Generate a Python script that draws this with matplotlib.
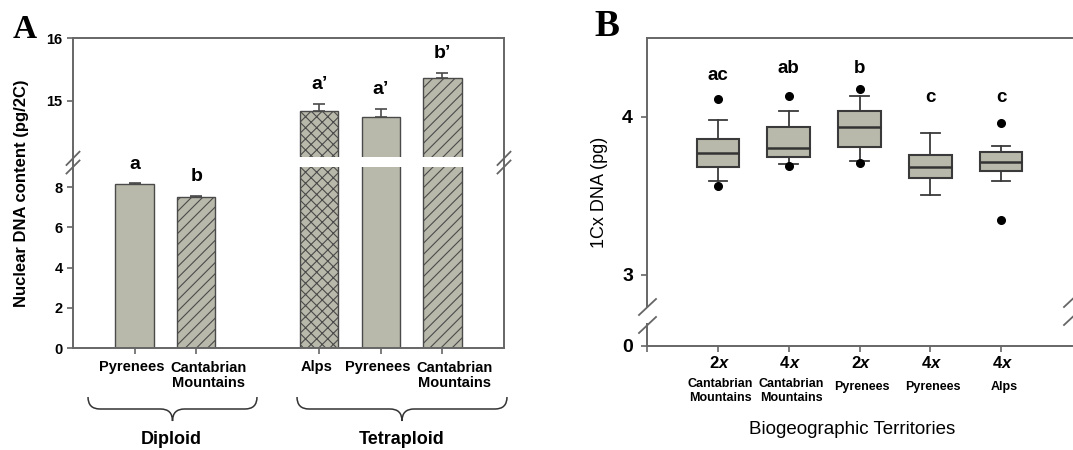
import numpy as np
import matplotlib
matplotlib.use('Agg')
import matplotlib.pyplot as plt
from matplotlib.path import Path
from matplotlib.patches import PathPatch, Rectangle
from matplotlib.lines import Line2D
import matplotlib.transforms as mtransforms

plt.rcParams['font.family'] = ['Liberation Sans', 'DejaVu Sans']
plt.rcParams['hatch.linewidth'] = 0.8

W, H = 1073, 450

# ---- panel A : nuclear DNA content (bars) ----
a_pos = [0, 1, 3, 4, 5]
a_labels = ['Pyrenees', 'Cantabrian\nMountains', 'Alps', 'Pyrenees', 'Cantabrian\nMountains']
a_means = [8.15, 7.53, 14.84, 14.74, 15.37]
a_err = [0.03, 0.02, 0.11, 0.13, 0.08]
a_hatch = ['', '///', 'xxx', '', '///']
a_letters = ['a', 'b', 'a\u2019', 'a\u2019', 'b\u2019']
a_yticks = [0, 2, 4, 6, 8, 15, 16]
groups = ['Diploid', 'Tetraploid']

# ---- panel B : 1Cx DNA (boxes) ----
b_pos = [1, 2, 3, 4, 5]
b_ploidy = ['2', '4', '2', '4', '4']
b_regions = ['Cantabrian\nMountains', 'Cantabrian\nMountains', 'Pyrenees', 'Pyrenees', 'Alps']
b_whislo = [3.596, 3.704, 3.723, 3.509, 3.596]
b_q1 = [3.680, 3.744, 3.810, 3.613, 3.658]
b_med = [3.769, 3.805, 3.934, 3.683, 3.715]
b_q3 = [3.860, 3.938, 4.040, 3.761, 3.778]
b_whishi = [3.983, 4.040, 4.135, 3.896, 3.816]
b_fliers = [[3.560, 4.114], [3.691, 4.131], [3.708, 4.175], [], [3.349, 3.964]]
b_letters = ['ac', 'ab', 'b', 'c', 'c']
b_letter_y = [4.262, 4.304, 4.304, 4.124, 4.124]
b_yticks = [0, 3, 4]

face = '#b9b9ab'
edge = '#4a4a4a'
spine_c = '#666666'


def broken(lo_top, hi_bot, k_lo, k_hi, d_lo, d_hi):
    # piecewise linear scale: 0..lo_top and hi_bot..max, squeezed gap between
    def fwd(y):
        y = np.asarray(y, dtype=float)
        mid = d_lo + (y - lo_top) * (d_hi - d_lo) / (hi_bot - lo_top)
        return np.where(y <= lo_top, y * k_lo,
                        np.where(y >= hi_bot, d_hi + (y - hi_bot) * k_hi, mid))

    def inv(d):
        d = np.asarray(d, dtype=float)
        mid = lo_top + (d - d_lo) * (hi_bot - lo_top) / (d_hi - d_lo)
        return np.where(d <= d_lo, d / k_lo,
                        np.where(d >= d_hi, hi_bot + (d - d_hi) / k_hi, mid))
    return fwd, inv


def fig_xy(x, y):
    return x / W, 1 - y / H


def slash(fig, x0, y0, x1, y1):
    (a, b), (c, d) = fig_xy(x0, y0), fig_xy(x1, y1)
    fig.add_artist(Line2D([a, c], [b, d], color=spine_c, lw=1.3))


def brace(fig, x0, x1, ytop, ymid, ybot):
    xc = (x0 + x1) / 2
    r = 12
    pts = [(x0, ytop), (x0, ymid), (x0 + r, ymid),
           (xc - r, ymid),
           (xc, ymid), (xc, ybot),
           (xc, ymid), (xc + r, ymid),
           (x1 - r, ymid),
           (x1, ymid), (x1, ytop)]
    codes = [Path.MOVETO, Path.CURVE3, Path.CURVE3,
             Path.LINETO,
             Path.CURVE3, Path.CURVE3,
             Path.CURVE3, Path.CURVE3,
             Path.LINETO,
             Path.CURVE3, Path.CURVE3]
    verts = [fig_xy(x, y) for x, y in pts]
    fig.add_artist(PathPatch(Path(verts, codes), fill=False, edgecolor='#333333',
                             lw=1.1, transform=fig.transFigure))


fig = plt.figure(figsize=(W / 100, H / 100), dpi=100)

# ================= A =================
ax = fig.add_axes([73 / W, 1 - 348 / H, (504 - 73) / W, (348 - 38) / H])
fa, ia = broken(9.0, 14.107, 20.09, 62.7, 180.8, 191.0)
ax.set_yscale('function', functions=(fa, ia))
ax.set_ylim(0, 16)
ax.set_xlim(-1, 6)

for x, m, h in zip(a_pos, a_means, a_hatch):
    ax.bar(x, m, width=0.62, color=face, edgecolor=edge, linewidth=1.0,
           hatch=h, zorder=1)
ax.errorbar(a_pos, a_means, yerr=[[0] * 5, a_err], fmt='none', ecolor=edge,
            elinewidth=1.2, capsize=4, capthick=1.2, zorder=2)
for x, m, e, t in zip(a_pos, a_means, a_err, a_letters):
    ax.annotate(t, (x, m + e), xytext=(0, 14), textcoords='offset points',
                ha='center', va='center', fontsize=14, fontweight='bold')

# white gap through the bars
ax.add_patch(Rectangle((0, 9.0), 1, 14.107 - 9.0,
                       transform=mtransforms.blended_transform_factory(ax.transAxes, ax.transData),
                       facecolor='white', edgecolor='none', zorder=2.2))

ax.set_yticks(a_yticks)
ax.set_yticklabels([str(v) for v in a_yticks], fontsize=10.5, fontweight='bold')
ax.set_xticks(a_pos)
ax.set_xticklabels([])
for x, lab in zip(a_pos, a_labels):
    dx = 9 if '\n' in lab else -2
    ax.annotate(lab, (x, 0), xycoords=('data', 'axes fraction'), xytext=(dx, -9),
                textcoords='offset points', ha='center', va='top', fontsize=10.5,
                fontweight='bold', linespacing=1.1)
ax.tick_params(axis='both', direction='out', length=4.5, width=1.2, color=spine_c, pad=3)
for s in ax.spines.values():
    s.set_color(spine_c)
    s.set_linewidth(1.4)
ax.set_ylabel('Nuclear DNA content (pg/2C)', fontsize=12, fontweight='bold', labelpad=8)
ax.yaxis.set_label_coords(-0.102, 0.5)

# axis break marks
for xs in (73, 504):
    slash(fig, xs - 6.5, 165, xs + 6.5, 151.7)
    slash(fig, xs - 6.5, 173.5, xs + 6.5, 160.5)

brace(fig, 88, 257, 397, 409, 421)
brace(fig, 297, 507, 397, 409, 421)
fig.text(*fig_xy(171, 440), groups[0], ha='center', va='center', fontsize=13, fontweight='bold')
fig.text(*fig_xy(402, 440), groups[1], ha='center', va='center', fontsize=13, fontweight='bold')
fig.text(*fig_xy(25, 30), 'A', ha='center', va='center', fontsize=24, fontweight='bold',
         family='Liberation Serif')

# ================= B =================
bx = fig.add_axes([647 / W, 1 - 346 / H, (1072 - 647) / W, (346 - 38) / H])
fb, ib = broken(0.146, 2.797, 157.7, 157.7, 23.0, 39.0)
bx.set_yscale('function', functions=(fb, ib))
bx.set_ylim(0, 4.5)
bx.set_xlim(0, 6)

stats = []
for i in range(5):
    stats.append(dict(med=b_med[i], q1=b_q1[i], q3=b_q3[i], whislo=b_whislo[i],
                      whishi=b_whishi[i], fliers=b_fliers[i]))
bx.bxp(stats, positions=b_pos, widths=0.6, capwidths=0.26, patch_artist=True,
       boxprops=dict(facecolor=face, edgecolor='#3a3a3a', linewidth=1.5),
       medianprops=dict(color='#333333', linewidth=1.8),
       whiskerprops=dict(color='#3a3a3a', linewidth=1.3),
       capprops=dict(color='#3a3a3a', linewidth=1.3),
       flierprops=dict(marker='o', markerfacecolor='black', markeredgecolor='black',
                       markersize=5.5))
for x, y, t in zip(b_pos, b_letter_y, b_letters):
    bx.text(x, y, t, ha='center', va='center', fontsize=13.5, fontweight='bold')

bx.set_yticks(b_yticks)
bx.set_yticklabels([str(v) for v in b_yticks], fontsize=14, fontweight='bold')
bx.set_xticks([0] + b_pos)
bx.set_xticklabels([])
bx.tick_params(axis='both', direction='out', length=4, width=1.2, color=spine_c, pad=6)
for s in bx.spines.values():
    s.set_color(spine_c)
    s.set_linewidth(1.4)
bx.spines['right'].set_visible(False)

# hide the spine between the break marks
bx.add_patch(Rectangle((-0.01, 0.146), 0.02, 2.797 - 0.146,
                       transform=mtransforms.blended_transform_factory(bx.transAxes, bx.transData),
                       facecolor='white', edgecolor='none', zorder=3, clip_on=False))
slash(fig, 639, 315, 656, 299)
slash(fig, 639, 333, 656, 317)
slash(fig, 1064, 307, 1079, 293)
slash(fig, 1064, 325, 1079, 311)

for x, p, reg in zip(b_pos, b_ploidy, b_regions):
    bx.annotate(p, (x, 0), xycoords=('data', 'axes fraction'), xytext=(0.5, -12.5),
                textcoords='offset points', ha='right', va='center', fontsize=12,
                fontweight='bold')
    bx.annotate('x', (x, 0), xycoords=('data', 'axes fraction'), xytext=(0.5, -12.5),
                textcoords='offset points', ha='left', va='center', fontsize=12,
                fontweight='bold', fontstyle='italic')
    dy = -32.5 if '\n' in reg else -29.5
    bx.annotate(reg, (x, 0), xycoords=('data', 'axes fraction'), xytext=(2, dy),
                textcoords='offset points', ha='center', va='center', fontsize=9,
                fontweight='bold', linespacing=1.15)

bx.set_ylabel('1Cx DNA (pg)', fontsize=13)
bx.yaxis.set_label_coords(-0.092, 0.5)
fig.text(*fig_xy(852, 430), 'Biogeographic Territories', ha='center', va='center', fontsize=13.5)
fig.text(*fig_xy(607, 27), 'B', ha='center', va='center', fontsize=27, fontweight='bold',
         family='Liberation Serif')

fig.savefig('out.png', dpi=100)
